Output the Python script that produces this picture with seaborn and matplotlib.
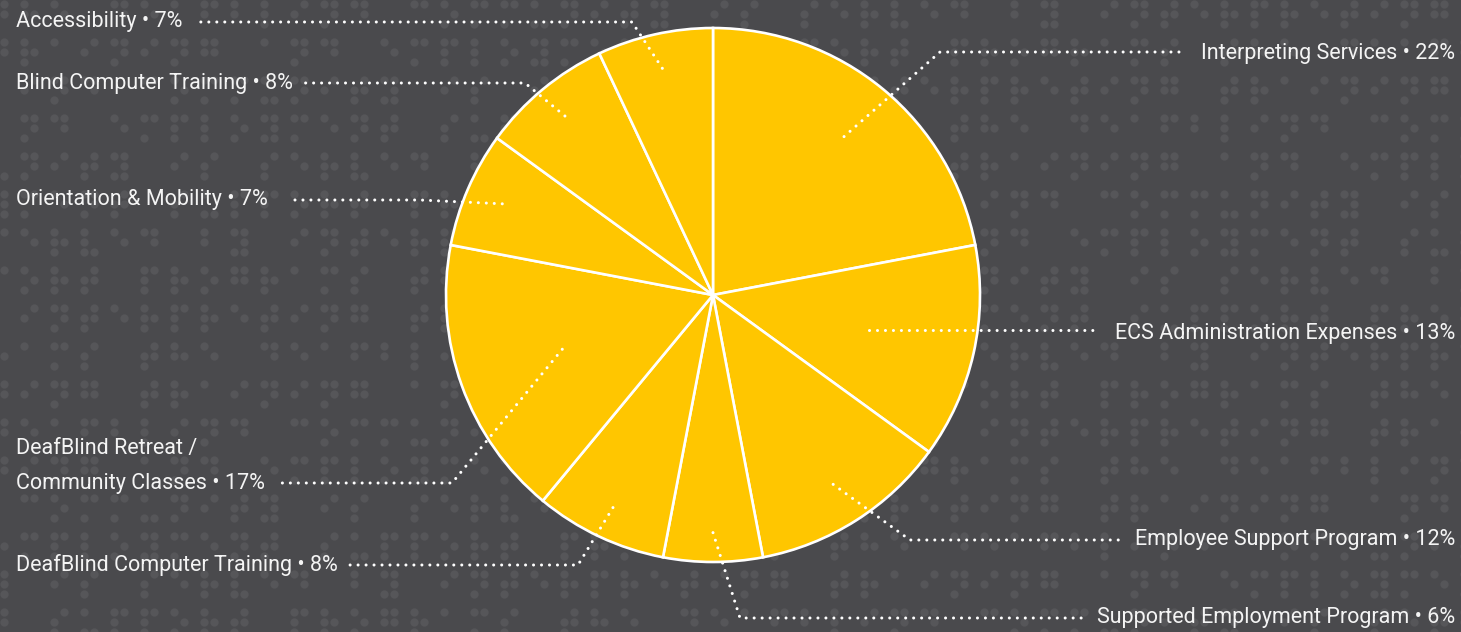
import numpy as np
import pandas as pd
import seaborn as sns
import matplotlib.pyplot as plt

# Budget shares (clockwise from 12 o'clock)
categories = [
    "Interpreting Services",
    "ECS Administration Expenses",
    "Employee Support Program",
    "Supported Employment Program",
    "DeafBlind Computer Training",
    "DeafBlind Retreat /\nCommunity Classes",
    "Orientation & Mobility",
    "Blind Computer Training",
    "Accessibility",
]
shares = [22, 13, 12, 6, 8, 17, 7, 8, 7]

df = pd.DataFrame({"category": categories, "share": shares})

BG = "#4a4a4d"
DOT = "#565659"
YELLOW = "#ffc600"
W, H = 1461, 632
CX, CY, R = 713, 295, 267   # pie centre / radius in image pixels (y down)

# label layout in image pixels: (label x, label y, ha, dots end x, elbow, start radius fraction)
layout = [
    (1455, 53, "right", 1180, (940, 52), 0.77),
    (1455, 333, "right", 1100, None, 0.60),
    (1455, 540, "right", 1124, (910, 540), 0.84),
    (1455, 617, "right", 1086, (740, 618), 0.89),
    (16, 565, "left", 348, (578, 565), 0.88),
    (16, 466, "left", 275, (452, 483), 0.60),
    (16, 200, "left", 290, (420, 200), 0.86),
    (16, 83, "left", 302, (525, 83), 0.87),
    (16, 22, "left", 198, (632, 22), 0.87),
]

sns.set_theme(style="dark", rc={"axes.facecolor": BG, "figure.facecolor": BG})
plt.rcParams["font.family"] = ["Roboto", "DejaVu Sans"]

fig = plt.figure(figsize=(W / 100, H / 100), dpi=100)
ax = fig.add_axes([0, 0, 1, 1])
ax.set_facecolor(BG)


def py(y):
    return H - y


# background braille pattern (decorative)
braille = {
    "a": "1", "b": "12", "c": "14", "d": "145", "e": "15", "f": "124", "g": "1245",
    "h": "125", "i": "24", "j": "245", "k": "13", "l": "123", "m": "134", "n": "1345",
    "o": "135", "p": "1234", "q": "12345", "r": "1235", "s": "234", "t": "2345",
    "u": "136", "v": "1236", "w": "2456", "x": "1346", "y": "13456", "z": "1356",
}
phrase = "the deafblind community is served by interpreting training and employment support programs "
bx, by = [], []
k = 0
for line_y in range(4, H + 10, 38):
    for cell_x in range(-6, W + 10, 30):
        ch = phrase[k % len(phrase)]
        k += 1
        for d in braille.get(ch, ""):
            d = int(d)
            col = 0 if d <= 3 else 1
            row = (d - 1) % 3
            bx.append(cell_x + col * 10)
            by.append(py(line_y + row * 10))
ax.scatter(bx, by, s=36, color=DOT, linewidths=0, zorder=0)

wedges, _ = ax.pie(
    df["share"], colors=[YELLOW] * len(df), startangle=90, counterclock=False,
    center=(CX, py(CY)), radius=R,
    wedgeprops=dict(edgecolor="white", linewidth=1.9),
)

for i, (lx, ly, ha, dx_end, elbow, rf) in enumerate(layout):
    w = wedges[i]
    mid = np.deg2rad((w.theta1 + w.theta2) / 2)
    sx = CX + rf * R * np.cos(mid)
    sy = py(CY) + rf * R * np.sin(mid)
    if elbow is None:
        xs = [sx, dx_end]
        ys = [sy, sy]
    else:
        xs = [sx, elbow[0], dx_end]
        ys = [sy, py(elbow[1]), py(elbow[1])]
    ax.plot(xs, ys, color="white", linewidth=2.2, linestyle=(0, (0.01, 2.6)),
            dash_capstyle="round", solid_capstyle="round", zorder=3)
    txt = f"{df['category'][i]} \u2022 {df['share'][i]}%"
    ax.text(lx, py(ly), txt, ha=ha, va="center", color="#f4f4f4",
            fontsize=15.5, linespacing=1.9, zorder=4)

ax.set_xlim(0, W)
ax.set_ylim(0, H)
ax.set_aspect("equal")
ax.axis("off")

fig.savefig("out.png", dpi=100, facecolor=fig.get_facecolor())
